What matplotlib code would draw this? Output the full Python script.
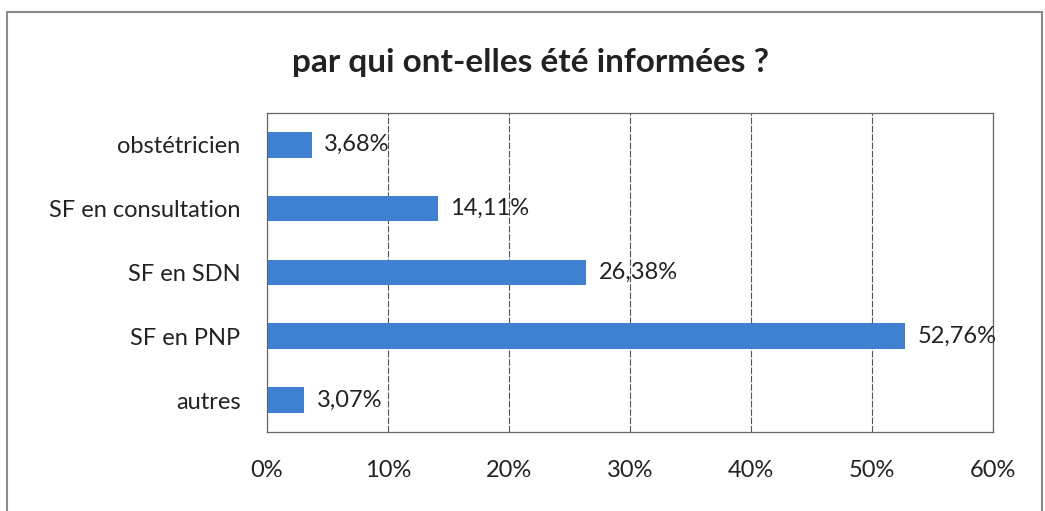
import matplotlib.pyplot as plt
from matplotlib.patches import Rectangle

categories = ["obstétricien", "SF en consultation", "SF en SDN", "SF en PNP", "autres"]
values = [3.68, 14.11, 26.38, 52.76, 3.07]
labels = ["3,68%", "14,11%", "26,38%", "52,76%", "3,07%"]
xticks = [0, 10, 20, 30, 40, 50, 60]

plt.rcParams['font.family'] = ['Lato', 'DejaVu Sans']

fig = plt.figure(figsize=(10.45, 5.11), dpi=100)
ax = fig.add_axes([0.2555, 0.1546, 0.6945, 0.6245])

# outer chart frame
fig.patches.append(Rectangle((0.007, -0.01), 0.99, 0.987, transform=fig.transFigure,
                             fill=False, edgecolor='#8a8a8a', linewidth=1.5))

ypos = list(range(len(categories)))
ax.barh(ypos, values, height=0.4, color='#3f80d0')
for y, v, lab in zip(ypos, values, labels):
    ax.annotate(lab, (v, y), xytext=(9, 0), textcoords='offset points',
                va='center', ha='left', fontsize=17, color='#222222')

ax.set_xlim(0, 60)
ax.set_ylim(len(categories) - 0.5, -0.5)
ax.set_yticks(ypos)
ax.set_yticklabels(categories, fontsize=17, color='#222222')
ax.set_xticks(xticks)
ax.set_xticklabels([f"{t}%" for t in xticks], fontsize=17, color='#222222')
ax.tick_params(axis='both', length=0)
ax.tick_params(axis='x', pad=20)
ax.tick_params(axis='y', pad=19)

ax.grid(axis='x', color='#555555', linewidth=0.8, linestyle=(0, (6, 1.5)))
ax.set_axisbelow(True)
for s in ax.spines.values():
    s.set_color('#666666')
    s.set_linewidth(0.9)

fig.text(0.508, 0.878, "par qui ont-elles été informées ?", ha='center', va='center',
         fontsize=24, fontweight='bold', color='#222222')

fig.savefig("out.png", dpi=100)
